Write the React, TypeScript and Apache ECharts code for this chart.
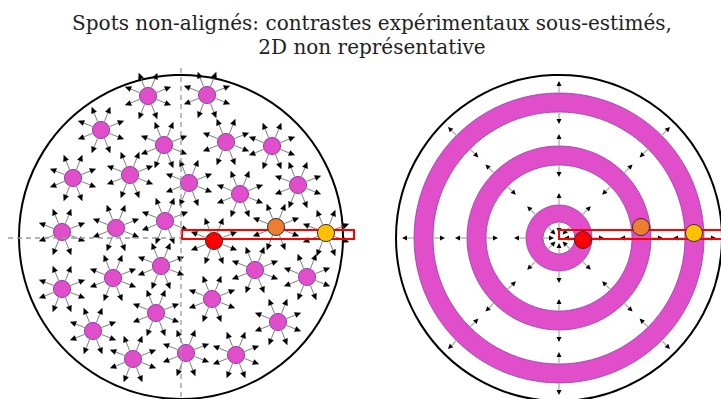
import React, { useEffect, useRef } from "react";
import * as echarts from "echarts";

// ---------- data ----------
const titleLines = [
  "Spots non-alignés: contrastes expérimentaux sous-estimés,",
  "2D non représentative",
];

// Left disc: non-aligned spot centres (origin = disc centre, y up)
const spotX = [-33, 26, -80, -17, 45, 91, -108, -51, 8, 59, 117, -16, -119, -65, -20, -68, 74, 126, -119, 31, -25, 97, -88, -48, 5, 55];
const spotY = [141, 142, 107, 92, 95, 91, 59, 62, 54, 43, 52, 16, 5, 9, -29, -41, -33, -40, -52, -62, -76, -85, -94, -122, -116, -118];

// highlighted spots (red, orange, yellow)
const leftHighlightX = [33, 95, 145];
const leftHighlightY = [-4, 10, 4];
const rightHighlightX = [24, 82, 135];
const rightHighlightY = [-2, 11, 5];

// Right disc: concentric rings
const ringInner = [16, 73, 126];
const ringOuter = [33, 92, 145];

// disc radii
const discRadius = [162, 163];

// arrow directions
const spotArrowAngles = [22, 68, 112, 158, 202, 248, 292, 338];
const spotArrowFrom = 9;
const spotArrowTo = 25;
const radialAngles = [0, 45, 90, 135, 180, 225, 270, 315];
const radialArrowFrom = [145, 126, 92, 73, 33, 16];
const radialArrowTo = [157, 114, 104, 61, 45, 5];

// measurement window (line profile) per panel: [x1, y1, x2, y2]
const leftWindow = [1, 7, 173, -2];
const rightWindow = [0, 8, 164, -1];

// dashed axes on left disc
const leftVertical = [[0, 169], [0, -162]];
const leftHorizontal = [[-173, -1], [0, -1]];

// ---------- helpers ----------
const PINK = "#e04fc9";
const PINK_EDGE = "#8e3fb0";
const HL_COLORS = ["#ff0000", "#ed7d31", "#ffc000"];

function arrowRender(stroke: string, lw: number, hl: number, hw: number) {
  return (params: any, api: any) => {
    const a = api.coord([api.value(0), api.value(1)]);
    const b = api.coord([api.value(2), api.value(3)]);
    const dx = b[0] - a[0];
    const dy = b[1] - a[1];
    const len = Math.hypot(dx, dy) || 1;
    const ux = dx / len;
    const uy = dy / len;
    const base = [b[0] - ux * hl, b[1] - uy * hl];
    const l = [base[0] - uy * hw, base[1] + ux * hw];
    const r = [base[0] + uy * hw, base[1] - ux * hw];
    return {
      type: "group",
      children: [
        {
          type: "line",
          shape: { x1: a[0], y1: a[1], x2: base[0], y2: base[1] },
          style: { stroke, lineWidth: lw },
        },
        {
          type: "polygon",
          shape: { points: [b, l, r] },
          style: { fill: "#000" },
        },
      ],
    };
  };
}

function discRender(params: any, api: any) {
  const c = api.coord([api.value(0), api.value(1)]);
  const r = api.size([api.value(2), 0])[0];
  return {
    type: "circle",
    shape: { cx: c[0], cy: c[1], r },
    style: { fill: "none", stroke: "#000", lineWidth: 2 },
  };
}

function ringRender(params: any, api: any) {
  const c = api.coord([0, 0]);
  const r0 = api.size([api.value(0), 0])[0];
  const r = api.size([api.value(1), 0])[0];
  return {
    type: "group",
    children: [
      {
        type: "ring",
        shape: { cx: c[0], cy: c[1], r, r0 },
        style: { fill: PINK },
      },
      {
        type: "circle",
        shape: { cx: c[0], cy: c[1], r },
        style: { fill: "none", stroke: PINK_EDGE, lineWidth: 0.8 },
      },
      {
        type: "circle",
        shape: { cx: c[0], cy: c[1], r: r0 },
        style: { fill: "none", stroke: PINK_EDGE, lineWidth: 0.8 },
      },
    ],
  };
}

function rectRender(params: any, api: any) {
  const a = api.coord([api.value(0), api.value(1)]);
  const b = api.coord([api.value(2), api.value(3)]);
  return {
    type: "rect",
    shape: {
      x: Math.min(a[0], b[0]),
      y: Math.min(a[1], b[1]),
      width: Math.abs(b[0] - a[0]),
      height: Math.abs(b[1] - a[1]),
    },
    style: { fill: "none", stroke: "#ff0000", lineWidth: 2 },
  };
}

const rad = (d: number) => (d * Math.PI) / 180;

export default function App() {
  const ref = useRef<HTMLDivElement>(null);

  useEffect(() => {
    if (!ref.current) return;
    const chart = echarts.init(ref.current, undefined, { renderer: "svg" });

    const allSpotX = spotX.concat(leftHighlightX);
    const allSpotY = spotY.concat(leftHighlightY);

    const leftArrows: number[][] = [];
    allSpotX.forEach((x, i) => {
      const y = allSpotY[i];
      spotArrowAngles.forEach((ang) => {
        const c = Math.cos(rad(ang));
        const s = Math.sin(rad(ang));
        leftArrows.push([x + c * spotArrowFrom, y + s * spotArrowFrom, x + c * spotArrowTo, y + s * spotArrowTo]);
      });
    });

    const rightArrows: number[][] = [];
    radialAngles.forEach((ang) => {
      const c = Math.cos(rad(ang));
      const s = Math.sin(rad(ang));
      radialArrowFrom.forEach((f, k) => {
        const t = radialArrowTo[k];
        rightArrows.push([c * f, s * f, c * t, s * t]);
      });
    });

    const option: any = {
      animation: false,
      title: {
        text: titleLines.join("\n"),
        left: 367,
        top: 6,
        textAlign: "center",
        textStyle: {
          fontFamily: "DejaVu Serif",
          fontSize: 20,
          fontWeight: "normal",
          color: "#222",
          lineHeight: 24,
        },
      },
      grid: [
        { left: 0, top: 0, width: 360, height: 399 },
        { left: 360, top: 0, width: 361, height: 399 },
      ],
      xAxis: [
        { type: "value", gridIndex: 0, min: -181, max: 179, show: false },
        { type: "value", gridIndex: 1, min: -199, max: 162, show: false },
      ],
      yAxis: [
        { type: "value", gridIndex: 0, min: -162, max: 237, show: false },
        { type: "value", gridIndex: 1, min: -161, max: 238, show: false },
      ],
      series: [
        // ----- left panel -----
        {
          type: "custom",
          xAxisIndex: 0,
          yAxisIndex: 0,
          clip: false,
          renderItem: discRender,
          data: [[0, 0, discRadius[0]]],
        },
        {
          type: "line",
          xAxisIndex: 0,
          yAxisIndex: 0,
          symbol: "none",
          lineStyle: { color: "#9a9a9a", width: 1.3, type: [5, 4] },
          data: leftVertical,
        },
        {
          type: "line",
          xAxisIndex: 0,
          yAxisIndex: 0,
          symbol: "none",
          lineStyle: { color: "#9a9a9a", width: 1.3, type: [5, 4] },
          data: leftHorizontal,
        },
        {
          type: "custom",
          xAxisIndex: 0,
          yAxisIndex: 0,
          clip: false,
          renderItem: arrowRender("#6f6f6f", 0.9, 6.5, 3),
          data: leftArrows,
        },
        {
          type: "scatter",
          xAxisIndex: 0,
          yAxisIndex: 0,
          symbolSize: 17,
          itemStyle: { color: PINK, borderColor: PINK_EDGE, borderWidth: 1, opacity: 1 },
          data: spotX.map((x, i) => [x, spotY[i]]),
        },
        {
          type: "custom",
          xAxisIndex: 0,
          yAxisIndex: 0,
          clip: false,
          renderItem: rectRender,
          data: [leftWindow],
        },
        {
          type: "scatter",
          xAxisIndex: 0,
          yAxisIndex: 0,
          symbolSize: 17,
          data: leftHighlightX.map((x, i) => ({
            value: [x, leftHighlightY[i]],
            itemStyle: { color: HL_COLORS[i], borderColor: "#333", borderWidth: 1, opacity: 1 },
          })),
        },
        // ----- right panel -----
        {
          type: "custom",
          xAxisIndex: 1,
          yAxisIndex: 1,
          clip: false,
          renderItem: discRender,
          data: [[0, 0, discRadius[1]]],
        },
        {
          type: "custom",
          xAxisIndex: 1,
          yAxisIndex: 1,
          clip: false,
          renderItem: ringRender,
          data: ringInner.map((r0, i) => [r0, ringOuter[i]]),
        },
        {
          type: "custom",
          xAxisIndex: 1,
          yAxisIndex: 1,
          clip: false,
          renderItem: arrowRender("#b3b3b3", 1.4, 5, 2.5),
          data: rightArrows,
        },
        {
          type: "custom",
          xAxisIndex: 1,
          yAxisIndex: 1,
          clip: false,
          renderItem: rectRender,
          data: [rightWindow],
        },
        {
          type: "scatter",
          xAxisIndex: 1,
          yAxisIndex: 1,
          symbolSize: 17,
          data: rightHighlightX.map((x, i) => ({
            value: [x, rightHighlightY[i]],
            itemStyle: { color: HL_COLORS[i], borderColor: "#333", borderWidth: 1, opacity: 1 },
          })),
        },
      ],
    };

    chart.setOption(option);
    return () => chart.dispose();
  }, []);

  return (
    <div
      ref={ref}
      style={{ position: "fixed", left: 0, top: 0, width: 721, height: 399, background: "#fff" }}
    />
  );
}
